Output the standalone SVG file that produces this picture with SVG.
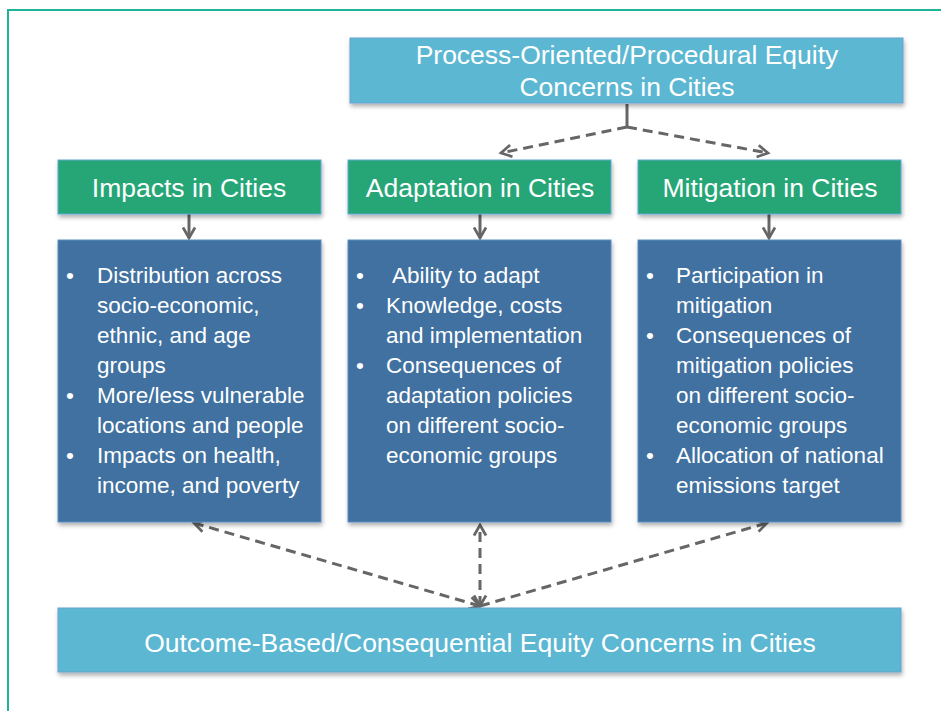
<svg xmlns="http://www.w3.org/2000/svg" width="941" height="711" viewBox="0 0 941 711">
<defs>
<style>
.frame{fill:none;stroke:#1fb39a;stroke-width:2}
.lb{fill:#5bb7d2;stroke:#6a9fd0;stroke-width:1}
.gr{fill:#27a677;stroke:#5fa8d8;stroke-width:1}
.bl{fill:#3f71a0;stroke:#5a8fc4;stroke-width:1}
.t{font-family:"Liberation Sans",Arial,sans-serif;fill:#ffffff}
.title{font-size:26.5px;text-anchor:middle}
.body{font-size:22.5px}
.dash{fill:none;stroke:#666;stroke-width:3;stroke-dasharray:10 6}
.solid{fill:none;stroke:#666;stroke-width:3}
</style>
<filter id="sh" x="-5%" y="-5%" width="110%" height="120%">
<feDropShadow dx="1" dy="3" stdDeviation="2" flood-color="#000" flood-opacity="0.3"/>
</filter>
<marker id="ah" viewBox="0 0 10 10" refX="8" refY="5" markerWidth="5" markerHeight="5" orient="auto-start-reverse" markerUnits="strokeWidth">
<path d="M1,1 L8,5 L1,9" fill="none" stroke="#666" stroke-width="1.8"/>
</marker>
</defs>
<rect width="941" height="711" fill="#ffffff"/>
<path class="frame" d="M8,711 V10 H941"/>

<g id="connectors">
<path class="solid" d="M627,104 V127"/>
<path class="dash" d="M627,127 L501,153" marker-end="url(#ah)"/>
<path class="dash" d="M627,127 L768,153" marker-end="url(#ah)"/>
<path class="solid" d="M189,214 V238" marker-end="url(#ah)"/>
<path class="solid" d="M480,214 V238" marker-end="url(#ah)"/>
<path class="solid" d="M769,214 V238" marker-end="url(#ah)"/>
<path class="dash" d="M480,606 L194,523" marker-start="url(#ah)" marker-end="url(#ah)"/>
<path class="dash" d="M480,606 L480,525" marker-start="url(#ah)" marker-end="url(#ah)"/>
<path class="dash" d="M480,606 L767,523" marker-end="url(#ah)"/>
</g>

<g id="process">
<rect class="lb" x="350" y="38" width="553" height="65" filter="url(#sh)"/>
<text class="t title" x="627" y="64" font-size="27">Process-Oriented/Procedural Equity</text>
<text class="t title" x="627" y="96" font-size="27">Concerns in Cities</text>
</g>

<g id="impacts">
<rect class="gr" x="58" y="160" width="263" height="54" filter="url(#sh)"/>
<text class="t title" x="189" y="197">Impacts in Cities</text>
</g>
<g id="adaptation">
<rect class="gr" x="348" y="160" width="263" height="54" filter="url(#sh)"/>
<text class="t title" x="480" y="197">Adaptation in Cities</text>
</g>
<g id="mitigation">
<rect class="gr" x="638" y="160" width="263" height="54" filter="url(#sh)"/>
<text class="t title" x="770" y="197">Mitigation in Cities</text>
</g>

<g id="impacts-details">
<rect class="bl" x="58" y="240" width="263" height="282" filter="url(#sh)"/>
<text class="t body">
<tspan x="66" y="283">•</tspan><tspan x="97" y="283">Distribution across</tspan>
<tspan x="97" y="313">socio-economic,</tspan>
<tspan x="97" y="343">ethnic, and age</tspan>
<tspan x="97" y="373">groups</tspan>
<tspan x="66" y="403">•</tspan><tspan x="97" y="403">More/less vulnerable</tspan>
<tspan x="97" y="433">locations and people</tspan>
<tspan x="66" y="463">•</tspan><tspan x="97" y="463">Impacts on health,</tspan>
<tspan x="97" y="493">income, and poverty</tspan>
</text>
</g>

<g id="adaptation-details">
<rect class="bl" x="348" y="240" width="263" height="282" filter="url(#sh)"/>
<text class="t body">
<tspan x="356" y="283">•</tspan><tspan x="392" y="283">Ability to adapt</tspan>
<tspan x="356" y="313">•</tspan><tspan x="386" y="313">Knowledge, costs</tspan>
<tspan x="386" y="343">and implementation</tspan>
<tspan x="356" y="373">•</tspan><tspan x="386" y="373">Consequences of</tspan>
<tspan x="386" y="403">adaptation policies</tspan>
<tspan x="386" y="433">on different socio-</tspan>
<tspan x="386" y="463">economic groups</tspan>
</text>
</g>

<g id="mitigation-details">
<rect class="bl" x="638" y="240" width="263" height="282" filter="url(#sh)"/>
<text class="t body">
<tspan x="646" y="283">•</tspan><tspan x="676" y="283">Participation in</tspan>
<tspan x="676" y="313">mitigation</tspan>
<tspan x="646" y="343">•</tspan><tspan x="676" y="343">Consequences of</tspan>
<tspan x="676" y="373">mitigation policies</tspan>
<tspan x="676" y="403">on different socio-</tspan>
<tspan x="676" y="433">economic groups</tspan>
<tspan x="646" y="463">•</tspan><tspan x="676" y="463">Allocation of national</tspan>
<tspan x="676" y="493">emissions target</tspan>
</text>
</g>

<g id="outcome">
<rect class="lb" x="58" y="608" width="843" height="64" filter="url(#sh)"/>
<text class="t title" x="480" y="652" font-size="27">Outcome-Based/Consequential Equity Concerns in Cities</text>
</g>
</svg>
